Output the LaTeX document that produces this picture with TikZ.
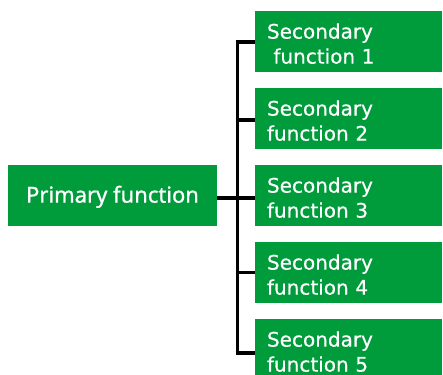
\documentclass[tikz,border=0pt]{standalone}
\usepackage{fontspec}
\setmainfont[FakeBold=0.5]{DejaVu Sans}
\newfontfamily\primfont[FakeBold=0.9]{Noto Sans}
\definecolor{fgreen}{RGB}{0,156,59}
\newcommand{\dn}{\rule{0pt}{19.5pt}}
\begin{document}
\begin{tikzpicture}[x=1pt,y=-1pt,
  box/.style={fill=fgreen, text=white, inner sep=0pt, outer sep=0pt},
  prbox/.style={box, minimum width=209pt, minimum height=61pt, font=\primfont\fontsize{22}{24}\selectfont, anchor=north west},
  sec/.style={box, minimum width=187pt, minimum height=61pt, text width=163pt, align=left, font=\fontsize{20}{25}\selectfont, anchor=north west},
  conn/.style={draw=black, line width=3.8pt}]
\useasboundingbox (0,0) rectangle (443,374);
\node[prbox] (prim) at (8,165) {\dn Primary function};
\node[sec] (s1) at (255,11) {\dn Secondary\\\hspace*{0.32em}function 1};
\node[sec] (s2) at (255,88) {\dn Secondary\\function 2};
\node[sec] (s3) at (255,165) {\dn Secondary\\function 3};
\node[sec] (s4) at (255,242) {\dn Secondary\\function 4};
\node[sec] (s5) at (255,319) {\dn Secondary\\function 5};
\coordinate (spinetop) at (237.5,42);
\coordinate (spinebot) at (237.5,353);
\draw[conn] (spinetop) -- (spinebot);
\draw[conn] ([yshift=-2.5pt]prim.east) -- ([yshift=-2.5pt]s3.west);
\draw[conn] ([xshift=-1.9pt]spinetop) -- (s1.west |- spinetop);
\draw[conn] ([yshift=-1.5pt]s2.west) -- ([yshift=-1.5pt]s2.west -| spinetop);
\draw[conn] (s4.west) -- (s4.west -| spinetop);
\draw[conn] ([xshift=-1.9pt]spinebot) -- (s5.west |- spinebot);
\end{tikzpicture}
\end{document}
